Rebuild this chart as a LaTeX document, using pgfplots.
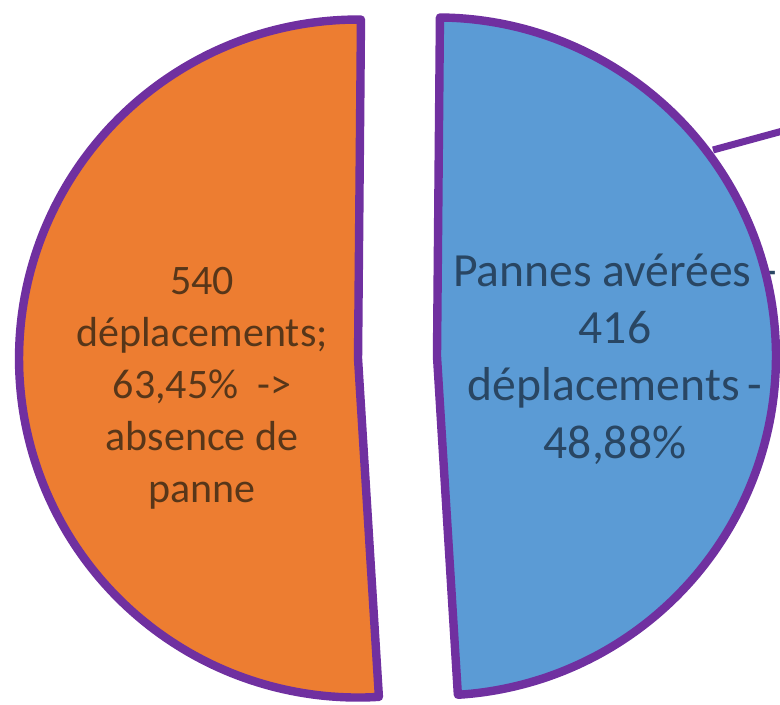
\documentclass[border=0pt]{standalone}
\usepackage{fontspec}
\setmainfont{Carlito}
\usepackage{pgfplots}
\pgfplotsset{compat=1.18}
\definecolor{sliceOrange}{HTML}{ED7D31}
\definecolor{sliceBlue}{HTML}{5B9BD5}
\definecolor{rim}{HTML}{7030A0}
\definecolor{txtOrange}{HTML}{573619}
\definecolor{txtBlue}{HTML}{294663}
\begin{document}
\begin{tikzpicture}
% slice shares (percent)
\pgfmathsetmacro{\valBlue}{48.88}
\pgfmathsetmacro{\valOrange}{51.12}
% geometry (pixel units of the reference)
\pgfmathsetmacro{\R}{339}
\pgfmathsetmacro{\cx}{397.5}
\pgfmathsetmacro{\cy}{347.5}
\pgfmathsetmacro{\ex}{39.5}
\pgfmathsetmacro{\aStart}{89.5}
\pgfmathsetmacro{\aMid}{\aStart+3.6*\valOrange}
\pgfmathsetmacro{\aEnd}{\aMid+3.6*\valBlue}
\pgfmathsetmacro{\oBis}{(\aStart+\aMid)/2}
\pgfmathsetmacro{\bBis}{(\aMid+\aEnd)/2}
\pgfmathsetmacro{\ocx}{\cx+\ex*cos(\oBis)}
\pgfmathsetmacro{\ocy}{\cy+\ex*sin(\oBis)}
\pgfmathsetmacro{\bcx}{\cx+\ex*cos(\bBis)}
\pgfmathsetmacro{\bcy}{\cy+\ex*sin(\bBis)}
\begin{axis}[
  width=390pt, height=352.5pt, scale only axis,
  xmin=0, xmax=780, ymin=0, ymax=705,
  axis line style={draw=none}, ticks=none,
  clip=true,
]
% fills
\addplot[fill=sliceOrange, draw=none, domain=\aStart:\aMid, samples=160, variable=\t]
  ({\ocx+\R*cos(\t)}, {\ocy+\R*sin(\t)}) -- (axis cs:\ocx,\ocy) -- cycle;
\addplot[fill=sliceBlue, draw=none, domain=\aMid:\aEnd, samples=160, variable=\t]
  ({\bcx+\R*cos(\t)}, {\bcy+\R*sin(\t)}) -- (axis cs:\bcx,\bcy) -- cycle;
% labels
\node[align=center, text=txtOrange, font=\fontsize{21}{26}\selectfont]
  at (axis cs:202,317) {540\\déplacements;\\63,45\%~~->\\absence de\\panne};
\node[align=center, text=txtBlue, font=\fontsize{23.8}{28.6}\selectfont]
  at (axis cs:615,346) {Pannes avérées -\\416\\déplacements\,-\\48,88\%};
% borders
\addplot[draw=rim, line width=4.2pt, line join=round, domain=\aStart:\aMid, samples=160, variable=\t]
  ({\ocx+\R*cos(\t)}, {\ocy+\R*sin(\t)}) -- (axis cs:\ocx,\ocy) -- cycle;
\addplot[draw=rim, line width=4.2pt, line join=round, domain=\aMid:\aEnd, samples=160, variable=\t]
  ({\bcx+\R*cos(\t)}, {\bcy+\R*sin(\t)}) -- (axis cs:\bcx,\bcy) -- cycle;
% leader line
\addplot[draw=rim, line width=3.5pt] coordinates {(713,555) (790,576)};
\end{axis}
\end{tikzpicture}
\end{document}
